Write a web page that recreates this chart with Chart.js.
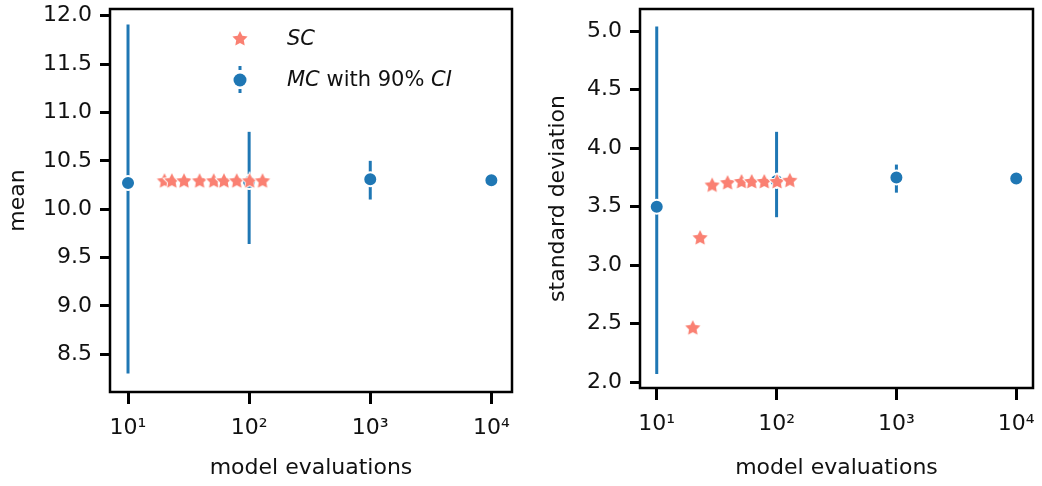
<!DOCTYPE html>
<html>
<head>
<meta charset="utf-8">
<script src="https://cdn.jsdelivr.net/npm/chart.js@4/dist/chart.umd.min.js"></script>
<style>
  html, body { margin: 0; padding: 0; background: #fff; overflow: hidden; }
  #left { position: absolute; left: 0; top: 0; }
  #right { position: absolute; left: 521px; top: 0; }
</style>
</head>
<body>
<canvas id="left" width="521" height="486"></canvas>
<canvas id="right" width="521" height="486"></canvas>
<script>
// Monte Carlo estimates with 90% CI
const mcEvals = [10, 100, 1000, 10000];
const mcMean = [10.27, 10.28, 10.31, 10.30];
const mcMeanLo = [8.30, 9.64, 10.10, 10.28];
const mcMeanHi = [11.91, 10.80, 10.50, 10.32];
const mcStd = [3.50, 3.72, 3.75, 3.74];
const mcStdLo = [2.07, 3.41, 3.62, 3.72];
const mcStdHi = [5.04, 4.14, 3.86, 3.76];

// stochastic collocation
const scEvals = [20, 23, 29, 39, 51, 62, 79, 101, 129];
const scMean = [10.30, 10.30, 10.30, 10.30, 10.30, 10.30, 10.30, 10.30, 10.30];
const scStd = [2.47, 3.24, 3.69, 3.71, 3.72, 3.72, 3.72, 3.72, 3.73];

const xTicks = [10, 100, 1000, 10000];
const xTickLabels = ["10¹", "10²", "10³", "10⁴"];
const meanTicks = [8.5, 9.0, 9.5, 10.0, 10.5, 11.0, 11.5, 12.0];
const stdTicks = [2.0, 2.5, 3.0, 3.5, 4.0, 4.5, 5.0];

const BLUE = "#1f77b4";
const SALMON = "#fa8072";
const tickFont = { family: "DejaVu Sans", size: 22 };
const titleFont = { family: "DejaVu Sans", size: 22 };

function starImage(r) {
  const c = document.createElement("canvas");
  const s = Math.ceil(r * 2 + 4);
  c.width = c.height = s;
  const g = c.getContext("2d");
  g.translate(s / 2, s / 2 + 1);
  g.beginPath();
  for (let i = 0; i < 10; i++) {
    const rad = i % 2 ? r * 0.5 : r;
    const a = -Math.PI / 2 + i * Math.PI / 5;
    g.lineTo(rad * Math.cos(a), rad * Math.sin(a));
  }
  g.closePath();
  g.strokeStyle = "#fff";
  g.lineWidth = 2;
  g.stroke();
  g.fillStyle = SALMON;
  g.fill();
  return c;
}
const star = starImage(8);

function errorBars(lo, hi) {
  return mcEvals.map((x, i) => ({
    data: [{ x, y: lo[i] }, { x, y: hi[i] }],
    showLine: true,
    borderColor: BLUE,
    borderWidth: 3,
    pointRadius: 0,
    order: 3,
  }));
}

function datasets(scVals, mcVals, lo, hi) {
  return [
    {
      label: "SC",
      data: scEvals.map((x, i) => ({ x, y: scVals[i] })),
      pointStyle: star,
      order: 0,
    },
    {
      label: "MC with 90% CI",
      data: mcEvals.map((x, i) => ({ x, y: mcVals[i] })),
      pointRadius: 7,
      backgroundColor: BLUE,
      borderColor: "#fff",
      borderWidth: 2,
      order: 1,
    },
    ...errorBars(lo, hi),
  ];
}

const frame = {
  id: "frame",
  afterDatasetsDraw(chart) {
    const { ctx, chartArea: a } = chart;
    ctx.save();
    ctx.strokeStyle = "#000";
    ctx.lineWidth = 2.5;
    ctx.strokeRect(a.left, a.top, a.width, a.height);
    ctx.restore();
  },
};

const legendBox = {
  id: "legendBox",
  afterDraw(chart) {
    const ctx = chart.ctx;
    ctx.save();
    ctx.drawImage(star, 240 - star.width / 2, 38 - star.height / 2);
    // errorbar marker
    ctx.fillStyle = BLUE;
    ctx.fillRect(238.5, 66, 3, 4);
    ctx.fillRect(238.5, 89, 3, 4);
    ctx.beginPath();
    ctx.arc(240, 80, 6.5, 0, Math.PI * 2);
    ctx.fill();
    ctx.fillStyle = "#111";
    ctx.textBaseline = "middle";
    ctx.font = "italic 21px 'DejaVu Sans'";
    ctx.fillText("SC", 287, 40);
    ctx.fillText("MC", 287, 81);
    let x = 287 + ctx.measureText("MC ").width;
    ctx.font = "21px 'DejaVu Sans'";
    ctx.fillText("with 90%", x, 81);
    x += ctx.measureText("with 90% ").width;
    ctx.font = "italic 21px 'DejaVu Sans'";
    ctx.fillText("CI", x, 81);
    ctx.restore();
  },
};

function makeChart(id, cfg) {
  return new Chart(document.getElementById(id), {
    type: "scatter",
    data: { datasets: cfg.datasets },
    plugins: cfg.plugins,
    options: {
      responsive: false,
      animation: false,
      layout: { padding: cfg.padding },
      plugins: { legend: { display: false }, tooltip: { enabled: false } },
      scales: {
        x: {
          type: "logarithmic",
          min: cfg.xMin,
          max: cfg.xMax,
          afterBuildTicks: (s) => { s.ticks = xTicks.map((v) => ({ value: v })); },
          afterFit: (s) => { s.height = cfg.xHeight; s.paddingLeft = 0; s.paddingRight = 0; },
          grid: { drawOnChartArea: false, tickLength: 12, tickWidth: 3, tickColor: "#000" },
          border: { display: false },
          ticks: {
            autoSkip: false,
            maxRotation: 0,
            padding: 11,
            color: "#111",
            font: tickFont,
            callback: (v, i) => xTickLabels[i],
          },
          title: {
            display: true,
            text: "model evaluations",
            color: "#111",
            font: titleFont,
            padding: { top: 0, bottom: 5 },
          },
        },
        y: {
          min: cfg.yMin,
          max: cfg.yMax,
          afterBuildTicks: (s) => { s.ticks = cfg.yTicks.map((v) => ({ value: v })); },
          afterFit: (s) => { s.width = cfg.yWidth; s.paddingTop = 0; s.paddingBottom = 0; },
          grid: { drawOnChartArea: false, tickLength: 10, tickWidth: 3, tickColor: "#000" },
          border: { display: false },
          ticks: {
            padding: 8,
            color: "#111",
            font: tickFont,
            callback: (v) => v.toFixed(1),
          },
          title: {
            display: true,
            text: cfg.yTitle,
            color: "#111",
            font: titleFont,
            padding: { top: cfg.yTitlePad, bottom: 0 },
          },
        },
      },
    },
  });
}

makeChart("left", {
  datasets: datasets(scMean, mcMean, mcMeanLo, mcMeanHi),
  plugins: [frame, legendBox],
  padding: { left: 0, top: 5, right: 9, bottom: 0 },
  xMin: 7.1, xMax: 14800, xHeight: 94,
  yMin: 8.11, yMax: 12.07, yTicks: meanTicks, yWidth: 110,
  yTitle: "mean", yTitlePad: 5,
});

makeChart("right", {
  datasets: datasets(scStd, mcStd, mcStdLo, mcStdHi),
  plugins: [frame],
  padding: { left: 0, top: 5, right: 5, bottom: 0 },
  xMin: 7.25, xMax: 13800, xHeight: 98,
  yMin: 1.95, yMax: 5.19, yTicks: stdTicks, yWidth: 119,
  yTitle: "standard deviation", yTitlePad: 24,
});
</script>
</body>
</html>
